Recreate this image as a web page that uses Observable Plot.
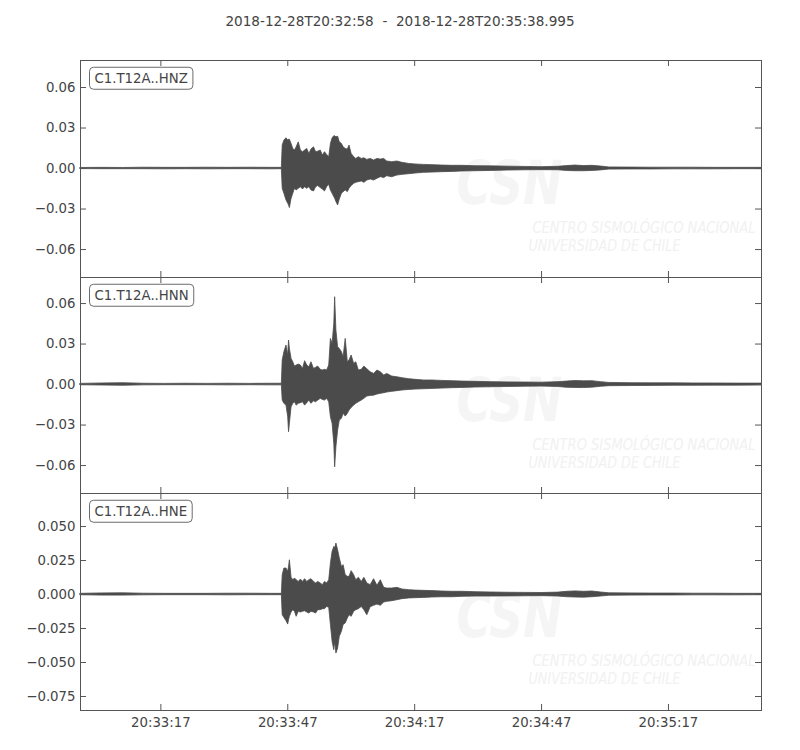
<!DOCTYPE html>
<html>
<head>
<meta charset="utf-8">
<script src="https://cdn.jsdelivr.net/npm/d3@7"></script>
<script src="https://cdn.jsdelivr.net/npm/@observablehq/plot@0.6"></script>
<style>
  body { margin: 0; background: #fff; width: 800px; height: 750px; position: relative; font-family: "DejaVu Sans", sans-serif; }
  #title { position: absolute; top: 11px; left: 0; width: 800px; text-align: center; font-size: 13.6px; color: #444; white-space: pre; line-height: 20px; }
  .panel { position: absolute; left: 0; }
  .panel svg { display: block; overflow: visible; }
</style>
</head>
<body>
<div id="title"></div>
<div id="p1" class="panel" style="top:59px"></div>
<div id="p2" class="panel" style="top:276px"></div>
<div id="p3" class="panel" style="top:492px"></div>
<script>
// ---------------- data ----------------
const titleText = "2018-12-28T20:32:58  -  2018-12-28T20:35:38.995";
const startTime = "2018-12-28T20:32:58Z";
const endTime = "2018-12-28T20:35:38.995Z";
const channels = ["C1.T12A..HNZ", "C1.T12A..HNN", "C1.T12A..HNE"];
const xTickLabels = ["20:33:17", "20:33:47", "20:34:17", "20:34:47", "20:35:17"];
const yTicksHNZ = [-0.06, -0.03, 0, 0.03, 0.06];
const yTicksHNN = [-0.06, -0.03, 0, 0.03, 0.06];
const yTicksHNE = [-0.075, -0.05, -0.025, 0, 0.025, 0.05];
const watermarkLogo = "CSN";
const watermarkLine1 = "CENTRO SISMOLÓGICO NACIONAL";
const watermarkLine2 = "UNIVERSIDAD DE CHILE";

// envelope of each trace (upper / lower extent), sampled at these seconds after start
const secondsAfterStart = [
  0, 5, 10, 15, 20, 25, 30, 35, 40, 45, 47.6,
  47.8, 48.2, 48.7, 49.1, 49.3, 49.5, 49.9, 50.3, 50.7, 51.1,
  51.6, 52.1, 52.6, 53.1, 53.6, 54.1, 54.6, 55.2, 55.7, 56.2,
  56.8, 57.3, 57.8, 58.3, 58.8, 59.2, 59.6, 60.0, 60.2, 60.5,
  60.9, 61.3, 61.8, 62.2, 62.7, 63.2, 63.6, 64.1, 64.7, 65.2,
  65.8, 66.5, 67.1, 67.8, 68.6, 69.4, 70.2, 71.0, 71.8, 72.5,
  73.7, 74.9, 76.1, 77.7, 79.2, 81.2, 83.2, 85.5, 87.9, 90.3,
  93.4,
  97, 101, 105, 109, 113, 115, 117, 119, 121, 123, 125, 130, 135, 140, 145, 150, 155, 161
];
// amplitudes in thousandths
const hnzMax = [
  0.4, 0.5, 0.4, 0.6, 0.5, 0.5, 0.6, 0.5, 0.6, 0.5, 0.5,
  17.0, 20.7, 22.4, 20.7, 21.4, 21.4, 18.2, 14.5, 13.3, 15.7,
  19.4, 13.3, 12.1, 13.3, 14.5, 10.8, 14.0, 15.7, 12.1, 12.5,
  13.3, 9.6, 12.1, 10.1, 8.4, 18.2, 22.4, 23.9, 23.9, 23.1,
  23.6, 19.4, 18.2, 15.7, 14.5, 14.0, 17.0, 10.8, 8.4, 7.1,
  8.4, 7.1, 7.6, 6.4, 7.1, 5.9, 7.1, 6.6, 7.1, 5.2,
  4.7, 5.2, 4.2, 3.4, 3.0, 2.7, 2.5, 2.2, 2.0, 2.0,
  1.7,
  1.6, 1.4, 1.2, 1.0, 1.3, 1.8, 2.2, 1.8, 2.0, 1.5, 0.8, 0.7, 0.6, 0.6, 0.6, 0.5, 0.5, 0.5
];
const hnzMin = [
  -0.4, -0.5, -0.5, -0.5, -0.6, -0.5, -0.6, -0.5, -0.5, -0.6, -0.5,
  -15.0, -18.7, -23.6, -26.1, -27.3, -29.3, -22.4, -18.7, -15.0, -16.2,
  -15.0, -13.8, -15.5, -13.8, -15.0, -13.8, -16.2, -17.0, -13.8, -13.0,
  -14.5, -15.5, -17.0, -13.8, -12.1, -16.2, -18.7, -21.2, -22.4, -24.8,
  -27.3, -22.9, -18.7, -17.5, -16.2, -17.5, -15.0, -13.0, -11.3, -10.6,
  -10.1, -9.6, -10.6, -8.9, -8.1, -8.9, -7.6, -6.4, -7.1, -5.7,
  -6.4, -5.2, -4.7, -4.2, -3.7, -3.2, -3.0, -2.7, -2.5, -2.2,
  -2.0,
  -1.8, -1.5, -1.3, -1.2, -1.3, -1.8, -2.0, -2.0, -1.8, -1.4, -0.8, -0.7, -0.7, -0.6, -0.6, -0.6, -0.5, -0.5
];
const hnnMax = [
  0.5, 0.8, 1.0, 0.6, 0.5, 0.6, 0.5, 0.6, 0.5, 0.6, 0.6,
  17.8, 24.0, 28.9, 21.5, 32.6, 26.4, 19.0, 16.5, 13.3, 14.1,
  14.8, 14.1, 11.6, 17.3, 14.1, 12.8, 16.5, 11.6, 12.4, 13.3,
  10.9, 10.4, 10.9, 10.4, 14.1, 33.8, 30.1, 45.0, 64.7, 40.0,
  27.7, 26.4, 24.0, 20.3, 33.8, 16.5, 17.8, 21.5, 15.3, 16.5,
  10.4, 10.9, 13.3, 11.4, 9.1, 7.9, 10.4, 9.1, 6.7, 7.9,
  5.9, 5.4, 4.7, 4.0, 3.5, 3.0, 3.0, 2.7, 2.5, 2.2,
  2.0,
  1.8, 1.6, 1.5, 1.4, 1.8, 2.2, 2.6, 2.4, 2.5, 1.8, 1.2, 1.0, 0.9, 0.9, 0.8, 0.8, 0.7, 0.7
];
const hnnMin = [
  -0.5, -0.7, -0.9, -0.6, -0.5, -0.5, -0.5, -0.6, -0.5, -0.6, -0.6,
  -11.9, -14.3, -15.6, -24.2, -35.3, -29.1, -16.8, -14.3, -13.1, -15.6,
  -14.3, -13.8, -13.1, -15.6, -13.8, -11.9, -14.3, -12.4, -13.1, -11.9,
  -10.6, -11.4, -11.9, -10.6, -13.1, -24.2, -29.1, -44.0, -61.3, -46.4,
  -34.1, -26.7, -25.4, -21.7, -23.7, -21.7, -19.3, -17.3, -15.6, -14.3,
  -13.1, -11.9, -10.6, -8.9, -8.4, -8.2, -7.4, -6.9, -6.4, -5.9,
  -5.4, -4.9, -4.4, -4.0, -3.7, -3.5, -3.2, -3.0, -2.7, -2.5,
  -2.2,
  -2.0, -1.8, -1.6, -1.5, -1.8, -2.4, -2.5, -2.6, -2.3, -1.7, -1.2, -1.1, -1.0, -0.9, -0.9, -0.8, -0.8, -0.7
];
const hneMax = [
  0.5, 0.8, 0.9, 0.6, 0.5, 0.5, 0.5, 0.6, 0.6, 0.5, 0.5,
  14.2, 19.1, 19.1, 16.7, 20.3, 25.2, 12.3, 10.5, 11.8, 10.5,
  9.3, 11.0, 9.3, 11.3, 9.3, 10.5, 11.3, 9.3, 8.1, 9.3,
  8.1, 6.9, 9.3, 8.1, 10.5, 22.8, 31.4, 35.0, 33.8, 37.5,
  32.6, 26.5, 20.3, 21.6, 14.2, 13.0, 13.0, 17.2, 14.2, 10.5,
  12.3, 9.3, 12.3, 8.1, 6.9, 11.3, 6.4, 10.5, 4.9, 4.4,
  4.4, 4.9, 3.7, 3.2, 2.9, 2.7, 2.5, 2.2, 2.0, 2.0,
  1.7,
  1.5, 1.3, 1.2, 1.1, 1.4, 2.0, 2.3, 2.0, 2.2, 1.5, 0.9, 0.8, 0.7, 0.7, 0.6, 0.6, 0.5, 0.5
];
const hneMin = [
  -0.5, -0.8, -0.8, -0.6, -0.5, -0.5, -0.5, -0.6, -0.5, -0.5, -0.5,
  -15.2, -17.2, -19.6, -22.1, -18.9, -16.4, -13.2, -11.5, -12.7, -16.4,
  -12.7, -13.2, -12.7, -12.3, -13.2, -14.0, -12.7, -13.2, -14.0, -11.5,
  -11.5, -10.8, -10.8, -9.1, -9.8, -22.5, -34.8, -40.9, -34.8, -43.4,
  -39.7, -31.1, -27.4, -22.5, -21.3, -17.6, -15.2, -16.4, -12.7, -11.5,
  -10.8, -9.1, -11.5, -15.2, -9.3, -8.3, -7.4, -8.3, -5.9, -5.4,
  -4.9, -4.2, -3.4, -2.9, -2.7, -2.5, -2.2, -2.0, -2.0, -1.7,
  -1.5,
  -1.5, -1.4, -1.3, -1.2, -1.5, -2.0, -2.2, -2.3, -2.0, -1.5, -0.9, -0.8, -0.7, -0.7, -0.6, -0.6, -0.6, -0.5
];
const yDomainHNZ = [-0.0807, 0.0800];
const yDomainHNN = [-0.0807, 0.0793];
const yDomainHNE = [-0.0853, 0.0743];

// ---------------- drawing ----------------
document.getElementById("title").textContent = titleText;
const t0 = new Date(startTime).getTime();
const xTicks = xTickLabels.map(l => new Date("2018-12-28T" + l + "Z"));
const WAVE = "#4b4b4b", SPINE = "#555", TEXT = "#444";
const W = 800, ML = 80, MR = 39, TICK = 6;
const frameW = W - ML - MR;
const WM_FONT = "Liberation Sans Narrow, DejaVu Sans Condensed, sans-serif";

function makeRows(maxArr, minArr) {
  return secondsAfterStart.map((s, i) => ({ time: new Date(t0 + s * 1000), max: maxArr[i] / 1000, min: minArr[i] / 1000 }));
}

function panel(el, { label, maxArr, minArr, yDomain, yTicks, fmt, frameH, bottom }) {
  const MT = 1, MB = bottom ? 40 : 1;
  const rows = makeRows(maxArr, minArr);
  const marks = [
    Plot.text([watermarkLogo], { frameAnchor: "top-left", text: d => d, dx: 376, dy: 124, textAnchor: "start", lineAnchor: "middle", fontSize: 60, fontWeight: "bold", fontStyle: "italic", fontFamily: WM_FONT, fill: "#f5f5f5" }),
    Plot.text([watermarkLine1], { frameAnchor: "top-left", text: d => d, dx: 452, dy: 168, textAnchor: "start", lineAnchor: "middle", fontSize: 15, fontStyle: "italic", fontFamily: WM_FONT, fill: "#f1f1f1" }),
    Plot.text([watermarkLine2], { frameAnchor: "top-left", text: d => d, dx: 448, dy: 186, textAnchor: "start", lineAnchor: "middle", fontSize: 15, fontStyle: "italic", fontFamily: WM_FONT, fill: "#f1f1f1" }),
    Plot.areaY(rows, { x: "time", y1: "min", y2: "max", fill: WAVE, stroke: WAVE, strokeWidth: 0.8 }),
    Plot.frame({ stroke: SPINE, strokeWidth: 1 }),
    Plot.tickX(xTicks, { x: d => d, stroke: SPINE, insetBottom: frameH - TICK }),
    Plot.tickX(xTicks, { x: d => d, stroke: SPINE, insetTop: frameH - TICK }),
    Plot.tickY(yTicks, { y: d => d, stroke: SPINE, insetRight: frameW - TICK }),
    Plot.tickY(yTicks, { y: d => d, stroke: SPINE, insetLeft: frameW - TICK }),
    Plot.axisY(yTicks, { tickFormat: d3.format(fmt), tickSize: 0, tickPadding: 5, label: null }),
    Plot.text([label], { frameAnchor: "top-left", text: d => d, dx: 14, dy: 18, textAnchor: "start", lineAnchor: "middle", fontSize: 13.3, fill: TEXT })
  ];
  if (bottom) {
    marks.push(Plot.axisX(xTicks, { tickFormat: d3.utcFormat("%H:%M:%S"), tickSize: 0, tickPadding: 7, label: null }));
  }
  const chart = Plot.plot({
    width: W,
    height: MT + frameH + MB,
    marginLeft: ML, marginRight: MR, marginTop: MT, marginBottom: MB,
    style: { fontFamily: "DejaVu Sans, sans-serif", fontSize: "13.3px", color: TEXT, background: "transparent", overflow: "visible" },
    x: { type: "utc", domain: [new Date(startTime), new Date(endTime)], axis: null },
    y: { domain: yDomain, axis: null },
    marks
  });
  el.appendChild(chart);
  const fitWidths = { [watermarkLogo]: 106, [watermarkLine1]: 223, [watermarkLine2]: 152 };
  d3.select(chart).selectAll("text").each(function () {
    const txt = this.textContent;
    if (txt in fitWidths) {
      this.setAttribute("textLength", fitWidths[txt]);
      this.setAttribute("lengthAdjust", "spacingAndGlyphs");
    }
    if (txt === label) {
      // rounded box around the channel label, in the text's own coordinates
      const b = this.getBBox();
      const rect = document.createElementNS("http://www.w3.org/2000/svg", "rect");
      rect.setAttribute("x", b.x - 5);
      rect.setAttribute("y", b.y - 3.5);
      rect.setAttribute("width", b.width + 10);
      rect.setAttribute("height", b.height + 7);
      rect.setAttribute("rx", 4);
      rect.setAttribute("fill", "#fff");
      rect.setAttribute("stroke", "#6b6b6b");
      rect.setAttribute("stroke-width", 1);
      const tr = this.getAttribute("transform");
      if (tr) rect.setAttribute("transform", tr);
      this.parentNode.insertBefore(rect, this);
    }
  });
}

panel(document.getElementById("p1"), { label: channels[0], maxArr: hnzMax, minArr: hnzMin, yDomain: yDomainHNZ, yTicks: yTicksHNZ, fmt: ".2f", frameH: 217, bottom: false });
panel(document.getElementById("p2"), { label: channels[1], maxArr: hnnMax, minArr: hnnMin, yDomain: yDomainHNN, yTicks: yTicksHNN, fmt: ".2f", frameH: 216, bottom: false });
panel(document.getElementById("p3"), { label: channels[2], maxArr: hneMax, minArr: hneMin, yDomain: yDomainHNE, yTicks: yTicksHNE, fmt: ".3f", frameH: 217, bottom: true });
</script>
</body>
</html>
